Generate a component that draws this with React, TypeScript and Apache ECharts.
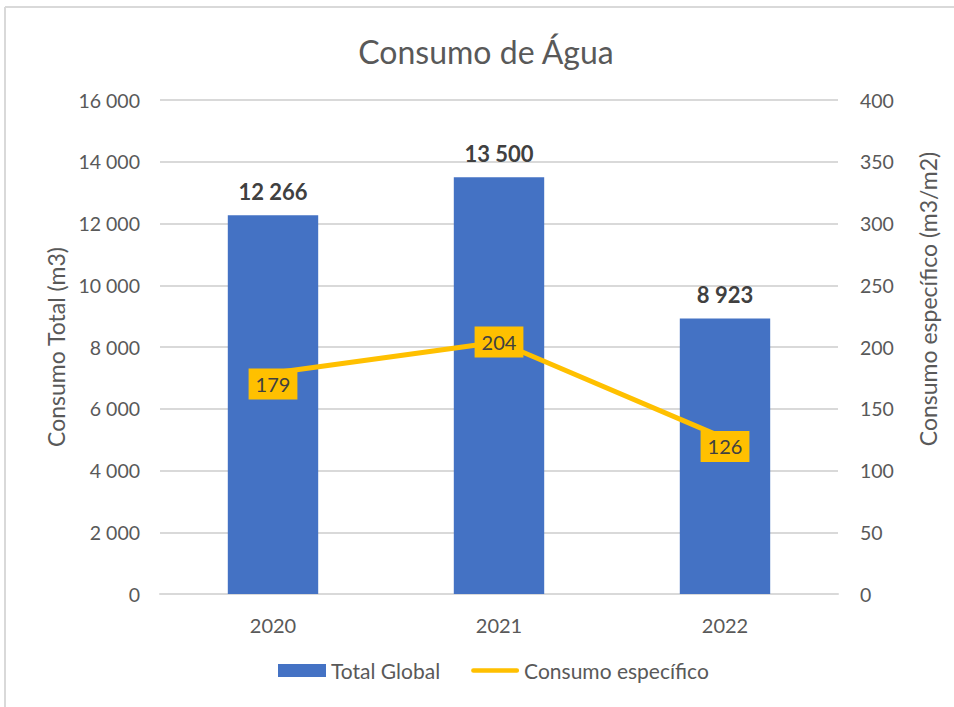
import React, { useEffect, useRef } from "react";
import * as echarts from "echarts";

const categories = ["2020", "2021", "2022"];
const totalGlobal = [12266, 13500, 8923];
const consumoEspecifico = [179, 204, 126];
const leftTicks = { min: 0, max: 16000, interval: 2000 };
const rightTicks = { min: 0, max: 400, interval: 50 };

const FONT = "Lato, 'Noto Sans', sans-serif";
const lineLabelOffsets = [[0, 11], [0, 0], [0, 8]];

const fmt = (v: number) => String(v).replace(/\B(?=(\d{3})+(?!\d))/g, " ");

export default function App() {
  const ref = useRef<HTMLDivElement>(null);
  useEffect(() => {
    if (!ref.current) return;
    const chart = echarts.init(ref.current, undefined, { renderer: "svg" });
    chart.setOption({
      animation: false,
      backgroundColor: "#ffffff",
      textStyle: { fontFamily: FONT },
      title: {
        text: "Consumo de Água",
        left: 481,
        top: 30,
        textAlign: "center",
        textStyle: { fontFamily: FONT, fontSize: 32, fontWeight: "normal", color: "#595959" },
      },
      graphic: [
        { type: "line", shape: { x1: 5, y1: 7, x2: 954, y2: 7 }, style: { stroke: "#D9D9D9", lineWidth: 2 } },
        { type: "line", shape: { x1: 5, y1: 7, x2: 5, y2: 707 }, style: { stroke: "#D9D9D9", lineWidth: 2 } },
      ],
      legend: {
        bottom: 21,
        left: 273,
        itemWidth: 48,
        itemHeight: 13,
        itemGap: 31,
        textStyle: { fontFamily: FONT, fontSize: 21, color: "#595959" },
        data: [
          { name: "Total Global", icon: "rect" },
          { name: "Consumo específico", icon: "path://M2,0 L50,0 A2.5,2.5 0 0 1 50,5 L2,5 A2.5,2.5 0 0 1 2,0 Z" },
        ],
      },
      grid: { left: 160, right: 116, top: 100, bottom: 113 },
      xAxis: {
        type: "category",
        data: categories,
        axisLine: { lineStyle: { color: "#D9D9D9", width: 2 } },
        axisTick: { show: false },
        axisLabel: { fontFamily: FONT, fontSize: 20, color: "#595959", margin: 21 },
      },
      yAxis: [
        {
          type: "value",
          min: leftTicks.min,
          max: leftTicks.max,
          interval: leftTicks.interval,
          name: "Consumo Total (m3)",
          nameLocation: "middle",
          nameGap: 88,
          nameTextStyle: { fontFamily: FONT, fontSize: 23, color: "#595959" },
          axisLine: { show: false },
          axisTick: { show: false },
          axisLabel: { fontFamily: FONT, fontSize: 19.5, color: "#595959", margin: 20, formatter: (v: number) => fmt(v) },
          splitLine: { lineStyle: { color: "#D9D9D9", width: 2 } },
        },
        {
          type: "value",
          min: rightTicks.min,
          max: rightTicks.max,
          interval: rightTicks.interval,
          name: "Consumo específico (m3/m2)",
          nameLocation: "middle",
          nameGap: 78,
          nameRotate: 90,
          nameTextStyle: { fontFamily: FONT, fontSize: 23, color: "#595959", padding: [0, 0, 0, 96] },
          axisLine: { show: false },
          axisTick: { show: false },
          axisLabel: { fontFamily: FONT, fontSize: 19.5, color: "#595959", margin: 22 },
          splitLine: { show: false },
        },
      ],
      series: [
        {
          name: "Total Global",
          type: "bar",
          data: totalGlobal,
          barWidth: "40%",
          itemStyle: { color: "#4472C4" },
          label: {
            show: true,
            position: "top",
            distance: 13,
            fontFamily: FONT,
            fontSize: 22,
            fontWeight: "bold",
            color: "#404040",
            formatter: (p: any) => fmt(p.value),
          },
        },
        {
          name: "Consumo específico",
          type: "line",
          yAxisIndex: 1,
          data: consumoEspecifico.map((v, i) => ({
            value: v,
            label: { offset: lineLabelOffsets[i] },
          })),
          symbol: "circle",
          symbolSize: 2,
          showSymbol: true,
          lineStyle: { color: "#FFC000", width: 5 },
          itemStyle: { color: "#FFC000" },
          label: {
            show: true,
            position: "inside",
            fontFamily: FONT,
            fontSize: 20,
            color: "#404040",
            backgroundColor: "#FFC000",
            padding: [6, 7, 5, 7],
          },
        },
      ],
    });
    return () => chart.dispose();
  }, []);
  return (
    <div
      ref={ref}
      style={{ position: "absolute", left: 0, top: 0, width: 954, height: 707 }}
    />
  );
}
